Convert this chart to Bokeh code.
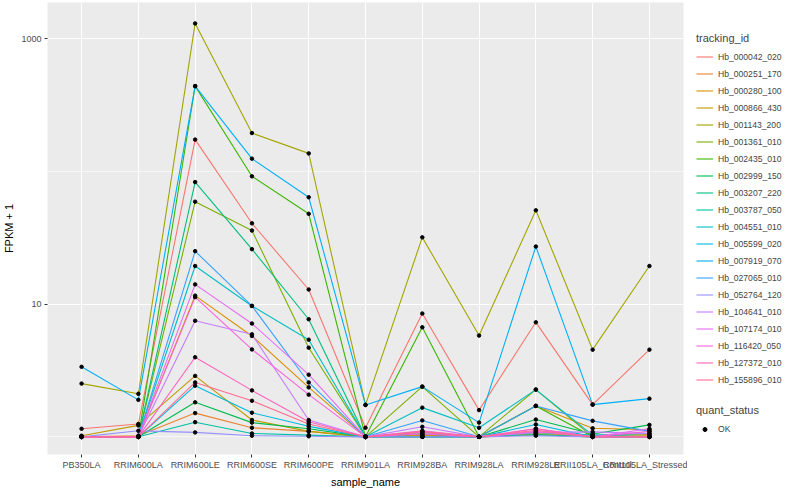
from bokeh.plotting import figure
from bokeh.layouts import row
from bokeh.models import Range1d, FixedTicker, Legend, LegendItem, ColumnDataSource
from bokeh.embed import file_html
from bokeh.resources import INLINE

categories = ["PB350LA", "RRIM600LA", "RRIM600LE", "RRIM600SE", "RRIM600PE",
              "RRIM901LA", "RRIM928BA", "RRIM928LA", "RRIM928LE",
              "RRII105LA_Control", "RRII105LA_Stressed"]

tracking_ids = ["Hb_000042_020", "Hb_000251_170", "Hb_000280_100", "Hb_000866_430",
                "Hb_001143_200", "Hb_001361_010", "Hb_002435_010", "Hb_002999_150",
                "Hb_003207_220", "Hb_003787_050", "Hb_004551_010", "Hb_005599_020",
                "Hb_007919_070", "Hb_027065_010", "Hb_052764_120", "Hb_104641_010",
                "Hb_107174_010", "Hb_116420_050", "Hb_127372_010", "Hb_155896_010"]

colors = ["#F8766D", "#EA8331", "#D89000", "#C09B00", "#A3A500", "#7CAE00", "#39B600",
          "#00BB4E", "#00BF7D", "#00C1A3", "#00BFC4", "#00BAE0", "#00B0F6", "#35A2FF",
          "#9590FF", "#C77CFF", "#E76BF3", "#FA62DB", "#FF62BC", "#FF6C91"]

# FPKM + 1 per sample (order of categories)
Hb_000042_020 = [1.15, 1.25, 174, 40.7, 12.9, 1.17, 8.5, 1.59, 7.3, 1.75, 4.54]
Hb_000251_170 = [1.0, 1.02, 1.51, 1.17, 1.1, 1.0, 1.03, 1.0, 1.06, 1.02, 1.04]
Hb_000280_100 = [1.0, 1.0, 11.6, 5.76, 2.36, 1.0, 1.0, 1.0, 1.71, 1.16, 1.13]
Hb_000866_430 = [1.02, 1.22, 2.88, 1.34, 1.1, 1.0, 1.02, 1.0, 1.04, 1.0, 1.02]
Hb_001143_200 = [2.52, 2.11, 1307, 195, 137, 1.74, 31.9, 5.8, 51, 4.54, 19.4]
Hb_001361_010 = [1.0, 1.0, 59.2, 35.9, 4.7, 1.0, 2.39, 1.0, 2.27, 1.0, 1.0]
Hb_002435_010 = [1.0, 1.0, 440, 92, 48, 1.0, 6.7, 1.0, 1.71, 1.0, 1.0]
Hb_002999_150 = [1.0, 1.0, 1.82, 1.28, 1.15, 1.0, 1.05, 1.0, 1.35, 1.05, 1.23]
Hb_003207_220 = [1.0, 1.0, 83.3, 26.0, 7.7, 1.0, 1.0, 1.0, 1.04, 1.0, 1.0]
Hb_003787_050 = [1.0, 1.0, 1.29, 1.06, 1.03, 1.0, 1.0, 1.0, 1.08, 1.03, 1.06]
Hb_004551_010 = [1.0, 1.0, 19.4, 9.7, 5.4, 1.0, 1.66, 1.17, 2.27, 1.03, 1.0]
Hb_005599_020 = [1.0, 1.0, 2.43, 1.52, 1.2, 1.0, 1.08, 1.0, 1.24, 1.0, 1.0]
Hb_007919_070 = [3.37, 1.90, 441, 125, 64, 1.74, 2.39, 1.28, 27.2, 1.75, 1.94]
Hb_027065_010 = [1.0, 1.0, 25.1, 9.7, 2.57, 1.0, 1.33, 1.0, 1.71, 1.32, 1.1]
Hb_052764_120 = [1.0, 1.11, 1.08, 1.02, 1.01, 1.0, 1.0, 1.0, 1.02, 1.0, 1.0]
Hb_104641_010 = [1.0, 1.0, 7.5, 5.93, 1.34, 1.0, 1.19, 1.0, 1.08, 1.09, 1.06]
Hb_107174_010 = [1.0, 1.0, 14.1, 7.15, 2.94, 1.0, 1.11, 1.0, 1.15, 1.0, 1.15]
Hb_116420_050 = [1.0, 1.0, 11.3, 4.56, 2.08, 1.0, 1.05, 1.0, 1.1, 1.0, 1.1]
Hb_127372_010 = [1.0, 1.0, 3.98, 2.24, 1.3, 1.0, 1.08, 1.0, 1.15, 1.0, 1.0]
Hb_155896_010 = [1.0, 1.0, 2.57, 1.87, 1.25, 1.0, 1.1, 1.0, 1.12, 1.0, 1.0]

series = [Hb_000042_020, Hb_000251_170, Hb_000280_100, Hb_000866_430, Hb_001143_200,
          Hb_001361_010, Hb_002435_010, Hb_002999_150, Hb_003207_220, Hb_003787_050,
          Hb_004551_010, Hb_005599_020, Hb_007919_070, Hb_027065_010, Hb_052764_120,
          Hb_104641_010, Hb_107174_010, Hb_116420_050, Hb_127372_010, Hb_155896_010]

quant_status = ["OK"]

y_ticks = [10, 1000]
y_minor = [1, 100]

FONT = "Liberation Sans"
FW, FH = 636, 452
LW, TOTAL_H = 100, 484

xs = list(range(len(categories)))

p = figure(frame_width=FW, frame_height=FH,
           x_range=Range1d(-0.6, len(categories) - 1 + 0.6),
           y_range=Range1d(0.736, 1880), y_axis_type="log",
           output_backend="svg", toolbar_location=None,
           min_border_top=2, min_border_right=4, min_border_left=0, min_border_bottom=0)

p.background_fill_color = "#EBEBEB"
p.border_fill_color = "white"
p.outline_line_color = None

p.xaxis.ticker = FixedTicker(ticks=xs)
p.xaxis.major_label_overrides = {i: c for i, c in enumerate(categories)}
p.yaxis.ticker = FixedTicker(ticks=y_ticks, minor_ticks=y_minor)
p.yaxis.major_label_overrides = {t: str(t) for t in y_ticks}

for ax in (p.xaxis, p.yaxis):
    ax.axis_line_color = None
    ax.major_tick_line_color = "#333333"
    ax.major_tick_in = 0
    ax.major_tick_out = 3
    ax.minor_tick_line_color = None
    ax.major_label_text_font = FONT
    ax.major_label_text_font_size = "9px"
    ax.major_label_text_color = "#4D4D4D"
    ax.axis_label_text_font = FONT
    ax.axis_label_text_font_size = "11px"
    ax.axis_label_text_font_style = "normal"
    ax.axis_label_text_color = "black"
    ax.major_label_standoff = 2
    ax.axis_label_standoff = 3

p.xaxis.axis_label = "sample_name"
p.yaxis.axis_label = "FPKM + 1"

p.xgrid.grid_line_color = "white"
p.xgrid.grid_line_width = 1.1
p.ygrid.grid_line_color = "white"
p.ygrid.grid_line_width = 1.1
p.ygrid.minor_grid_line_color = "white"
p.ygrid.minor_grid_line_width = 0.55

px, py = [], []
for name, col, vals in zip(tracking_ids, colors, series):
    p.line(xs, vals, line_color=col, line_width=1.1)
    px.extend(xs)
    py.extend(vals)

p.scatter(x="x", y="y", source=ColumnDataSource(dict(x=px, y=py)),
          size=3.5, marker="circle", color="black")

# legend-only panel (its ranges keep the series out of view; only the legends show)
lp = figure(width=LW, height=TOTAL_H, x_range=Range1d(-100, -99), y_range=Range1d(-100, -99),
            output_backend="svg", toolbar_location=None,
            x_axis_location=None, y_axis_location=None, min_border=0)
lp.grid.visible = False
lp.outline_line_color = None
lp.background_fill_color = "white"
lp.border_fill_color = "white"

items = []
for name, col, vals in zip(tracking_ids, colors, series):
    r = lp.line(xs, vals, line_color=col, line_width=1.1)
    items.append(LegendItem(label=name, renderers=[r]))
rq = lp.scatter(x=px, y=py, size=3.5, marker="circle", color="black")

def style(lg):
    lg.title_text_font = FONT
    lg.title_text_font_size = "11px"
    lg.title_text_font_style = "normal"
    lg.label_text_font = FONT
    lg.label_text_font_size = "8.6px"
    lg.glyph_width = 17
    lg.glyph_height = 17
    lg.label_height = 17
    lg.label_standoff = 5
    lg.spacing = 0
    lg.padding = 2
    lg.margin = 0
    lg.title_standoff = 4
    lg.border_line_color = None
    lg.background_fill_color = None

leg1 = Legend(items=items, title="tracking_id", location=(9, 60))
style(leg1)
leg2 = Legend(items=[LegendItem(label=quant_status[0], renderers=[rq])],
              title="quant_status", location=(9, 11))
style(leg2)
leg2.glyph_height = 10
lp.add_layout(leg1, "center")
lp.add_layout(leg2, "center")

layout = row(p, lp)
open("out.html", "w").write(file_html(layout, INLINE))
